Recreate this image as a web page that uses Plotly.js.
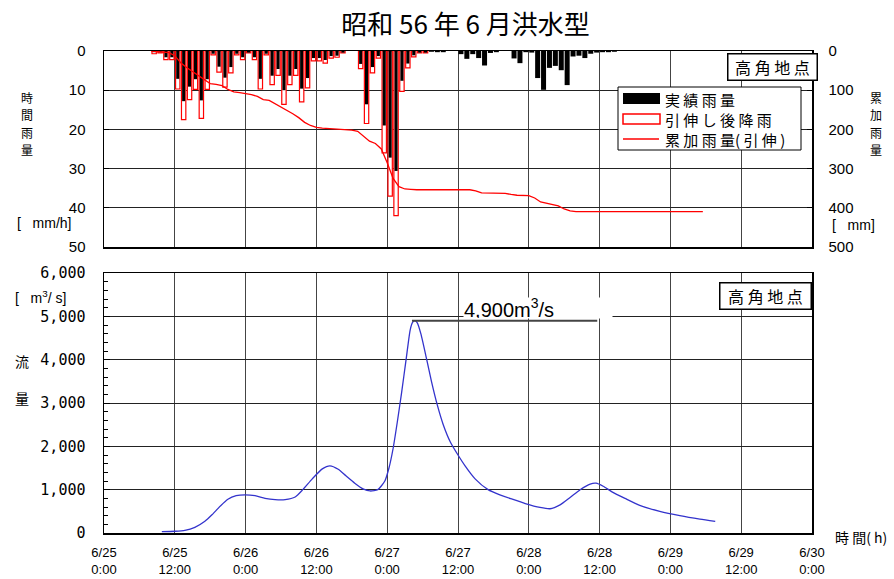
<!DOCTYPE html>
<html><head><meta charset="utf-8">
<script src="https://cdn.plot.ly/plotly-3.0.1.min.js"></script>
<style>body{margin:0;background:#fff}#chart{width:894px;height:579px}</style>
</head><body><div id="chart"></div>
<script>
// ---- data ----
const xTickHours = [0,12,24,36,48,60,72,84,96,108,120];
const xTickLabels = ['6/25<br>0:00','6/25<br>12:00','6/26<br>0:00','6/26<br>12:00','6/27<br>0:00','6/27<br>12:00','6/28<br>0:00','6/28<br>12:00','6/29<br>0:00','6/29<br>12:00','6/30<br>0:00'];

// hourly rainfall, hour slots starting 6/25 0:00 + h
const rainHours = [];
for (let h = 8; h <= 86; h++) rainHours.push(h);
const actualRain = [
 0.3,0.3,1.6,1.6,7.1,12.8,9.1,7.2,12.6,7.2,
 0.7,4.0,6.8,4.1,0.7,1.6,0.4,1.6,7.1,0.7,
 6.3,4.6,10.0,6.3,4.6,9.6,6.9,1.8,1.8,2.3,
 1.3,1.2,0.4,0,0,3.3,13.6,4.1,1.3,19.0,
 27.2,30.6,7.6,3.2,1.1,0.4,0.4,0.2,0.3,0.3,
 0,0,0.8,2.0,0.8,1.8,3.7,0.5,0.3,0,
 0,1.9,3.1,0.3,0.4,6.9,9.9,4.3,3.8,4.9,
 8.7,1.4,1.2,1.8,0.7,0.4,0.3,0.3,0.2];
const stretchedRain = [
 0.7,0.5,2.2,2.2,9.7,17.5,12.4,9.8,17.2,9.8,
 1.0,5.4,9.2,5.6,1.0,2.2,0.5,2.2,9.7,1.0,
 8.6,6.2,13.6,8.6,6.2,13.0,9.4,2.5,2.5,3.1,
 1.8,1.6,0.5,0,0,4.5,18.5,5.6,1.8,26.0,
 37.0,42.0,10.3,4.3,1.5,0.5,0.5,0,0,0,
 0,0,0,0,0,0,0,0,0,0,
 0,0,0,0,0,0,0,0,0,0,
 0,0,0,0,0,0,0,0,0];

// cumulative rainfall (stretched) [mm]
const cumHours = [8,9,10,11,12,13,14,15,16,17,18,19,20,21,22,23,24,25,26,27,28,29,30,31,32,33,34,35,36,37,38,39,40,41,42,43,44,45,46,47,48,49,50,51,52,53,62,63,64,68,69,70,72,73,74,75,76,77,78,79,80,101.5];
const cumRain = [0,1,2,4,12,30,42,52,62,72,83,85,88,98,104,106,109,111,116,124,126,134,142,152,160,170,182,190,195,197,198,199,200,201,202,205,218,230,236,250,285,325,346,352,353,354,354,357,362,363,366,368,369,375,385,388,391,395,403,408,410,410];

// discharge at Takatsuno [m3/s]
const flowHours = [9.8,12,13.7,15.4,17.1,18.3,19.7,21,22.4,23.9,25.6,27.3,29,30.7,32.4,33.7,35.3,37,38.3,39.7,41,42.5,43.9,45.1,46.4,47.6,48.3,49,49.7,50.4,51.2,51.9,52.3,52.7,53.1,53.7,54.7,55.5,56.5,57.5,58.7,60,61.2,62.9,65.1,67.1,69.2,71.4,73.9,75.6,77.3,79,80.7,82.4,83.4,84.6,86.1,88.3,90.8,94.2,97.6,101,103.6];
const flowValues = [30,40,60,130,270,420,620,780,860,880,860,800,770,770,830,1000,1250,1480,1550,1470,1320,1150,1020,970,1000,1200,1500,1950,2550,3200,4000,4690,4860,4900,4850,4600,4000,3500,2950,2500,2100,1800,1550,1250,1000,880,780,680,590,560,650,820,1000,1130,1150,1080,950,800,640,500,400,320,270];
const peakHour = 52.7, peakFlow = 4900, peakLabelEndHour = 83.6;
const peakLabel = '4,900m<sup>3</sup>/s';

// ---- layout helpers ----
const L=104,R=812,T=51,B=533, W=894, H=579;
const px = x => (x-L)/(R-L);
const py = y => (B-y)/(B-T);
const JP = 'Noto Sans CJK JP, sans-serif';
const NUM = 'Liberation Sans, Arial, sans-serif';
const MONO = 'DejaVu Sans Mono, monospace';

const barX = rainHours.map(h => h + 0.5);

const traces = [
 { type:'bar', name:'引伸し後降雨', x: barX, y: stretchedRain.map(v => v || null), xaxis:'x2', yaxis:'y2',
   width: 0.74, marker:{color:'#ffffff', line:{color:'#ff0000', width:1.2}} },
 { type:'bar', name:'実績雨量', x: barX, y: actualRain.map(v => v || null), xaxis:'x2', yaxis:'y2',
   width: stretchedRain.map(v => v > 0 ? 0.52 : 0.85), marker:{color:'#000000', line:{width:0}} },
 { type:'scatter', mode:'lines', name:'累加雨量（引伸）', x: cumHours, y: cumRain, xaxis:'x2', yaxis:'y3',
   line:{color:'#ff0000', width:1.3} },
 { type:'scatter', mode:'lines', name:'流量', x: flowHours, y: flowValues, xaxis:'x', yaxis:'y',
   line:{color:'#3333cc', width:1.3, shape:'spline', smoothing:0.6} }
];

const ann = [];
function txt(t, x, y, opts) {
  ann.push(Object.assign({text:t, xref:'paper', yref:'paper', x:px(x), y:py(y), showarrow:false,
    xanchor:'center', yanchor:'middle', font:{family:JP, size:14, color:'#000'}}, opts||{}));
}
'時間雨量'.split('').forEach((c,i) => txt(c, 27, 97 + i*17.5, {font:{family:JP, size:12, color:'#000'}}));
'累加雨量'.split('').forEach((c,i) => txt(c, 876, 97 + i*17.5, {font:{family:JP, size:12, color:'#000'}}));
txt('[   mm/h]', 44, 223, {font:{family:NUM, size:14, color:'#000'}});
txt('[   mm]', 853, 225, {font:{family:NUM, size:14, color:'#000'}});
txt('[   m<sup>3</sup>/ s]', 40, 297, {font:{family:NUM, size:14, color:'#000'}});
txt('流', 22, 361);
txt('量', 22, 398);
txt('時 間( h)', 833, 537, {xanchor:'left'});
// location boxes
txt('高 角 地 点', 772, 67, {font:{family:JP, size:16, color:'#000'}, bgcolor:'#fff', bordercolor:'#000', borderwidth:1.5, borderpad:2, width:84, height:21});
txt('高 角 地 点', 765.5, 296, {font:{family:JP, size:16, color:'#000'}, bgcolor:'#fff', bordercolor:'#000', borderwidth:1.5, borderpad:2, width:86, height:21});
// legend texts
txt('実 績 雨 量', 663, 99, {xanchor:'left', font:{family:JP, size:15, color:'#000'}});
txt('引 伸 し 後 降 雨', 663, 119, {xanchor:'left', font:{family:JP, size:15, color:'#000'}});
txt('累 加 雨 量( 引 伸 )', 663, 139, {xanchor:'left', font:{family:JP, size:15, color:'#000'}});
// peak label
txt(peakLabel, 463, 308, {xanchor:'left', align:'left', bgcolor:'#fff', width:148, height:20, borderpad:0,
  font:{family:NUM, size:20, color:'#000'}});

const shapes = [
 {type:'rect', xref:'paper', yref:'paper', x0:px(618), x1:px(801), y0:py(150), y1:py(87), fillcolor:'#fff', line:{color:'#000', width:1}, layer:'above'},
 {type:'rect', xref:'paper', yref:'paper', x0:px(623), x1:px(660), y0:py(104), y1:py(93), fillcolor:'#000', line:{width:0}, layer:'above'},
 {type:'rect', xref:'paper', yref:'paper', x0:px(623), x1:px(660), y0:py(124), y1:py(114), fillcolor:'#fff', line:{color:'#ff0000', width:1.5}, layer:'above'},
 {type:'line', xref:'paper', yref:'paper', x0:px(623), x1:px(659), y0:py(139), y1:py(139), line:{color:'#ff0000', width:1.3}, layer:'above'},
 {type:'line', xref:'x', yref:'y', x0:peakHour-0.5, x1:peakLabelEndHour, y0:peakFlow, y1:peakFlow, line:{color:'#444', width:2}, layer:'above'}
];

const gridV = '#444', gridH = '#222';
const layout = {
  width:W, height:H, margin:{l:L, r:W-R, t:T, b:H-B}, paper_bgcolor:'#fff', plot_bgcolor:'#fff',
  showlegend:false, barmode:'overlay',
  title:{text:'昭和 56 年 6 月洪水型', font:{family:JP, size:26, color:'#000'}, x:465.5/W, xanchor:'center', xref:'container', y:1-25/H, yanchor:'middle', yref:'container'},
  xaxis:{domain:[0,1], anchor:'y', range:[0,120], tickmode:'array', tickvals:xTickHours, ticktext:xTickLabels,
    showgrid:true, gridcolor:gridV, gridwidth:1, showline:true, mirror:true, linecolor:'#000', linewidth:1.5,
    ticks:'', zeroline:false, tickfont:{family:NUM, size:13, color:'#000'}, ticklabelstandoff:7},
  yaxis:{domain:[0, py(273)], anchor:'x', range:[0,6000], tickmode:'linear', tick0:0, dtick:1000, tickformat:',d',
    showgrid:true, gridcolor:gridH, gridwidth:1, showline:true, mirror:true, linecolor:'#000', linewidth:1.5,
    ticks:'inside', ticklen:6, tickcolor:'#000', minor:{dtick:200, ticks:'inside', ticklen:4, tickcolor:'#000', showgrid:false},
    zeroline:false, tickfont:{family:MONO, size:15, color:'#000'}, ticklabelstandoff:14},
  xaxis2:{domain:[0,1], anchor:'y2', matches:'x', range:[0,120], tickmode:'array', tickvals:xTickHours, showticklabels:false,
    showgrid:true, gridcolor:gridV, gridwidth:1, showline:true, mirror:true, linecolor:'#000', linewidth:1.5, ticks:'', zeroline:false},
  yaxis2:{domain:[py(247), 1], anchor:'x2', range:[50,0], tickmode:'linear', tick0:0, dtick:10,
    showgrid:true, gridcolor:gridH, gridwidth:1, showline:true, linecolor:'#000', linewidth:1.5,
    ticks:'inside', ticklen:5, tickcolor:'#000', zeroline:false, tickfont:{family:NUM, size:15, color:'#000'}, ticklabelstandoff:14},
  yaxis3:{overlaying:'y2', anchor:'x2', side:'right', range:[500,0], tickmode:'linear', tick0:0, dtick:100,
    showgrid:false, showline:true, linecolor:'#000', linewidth:1.5, ticks:'inside', ticklen:5, tickcolor:'#000',
    zeroline:false, tickfont:{family:NUM, size:15, color:'#000'}, ticklabelstandoff:12},
  annotations: ann, shapes: shapes
};

Plotly.newPlot('chart', traces, layout, {staticPlot:true, displayModeBar:false});
</script>
</body></html>
